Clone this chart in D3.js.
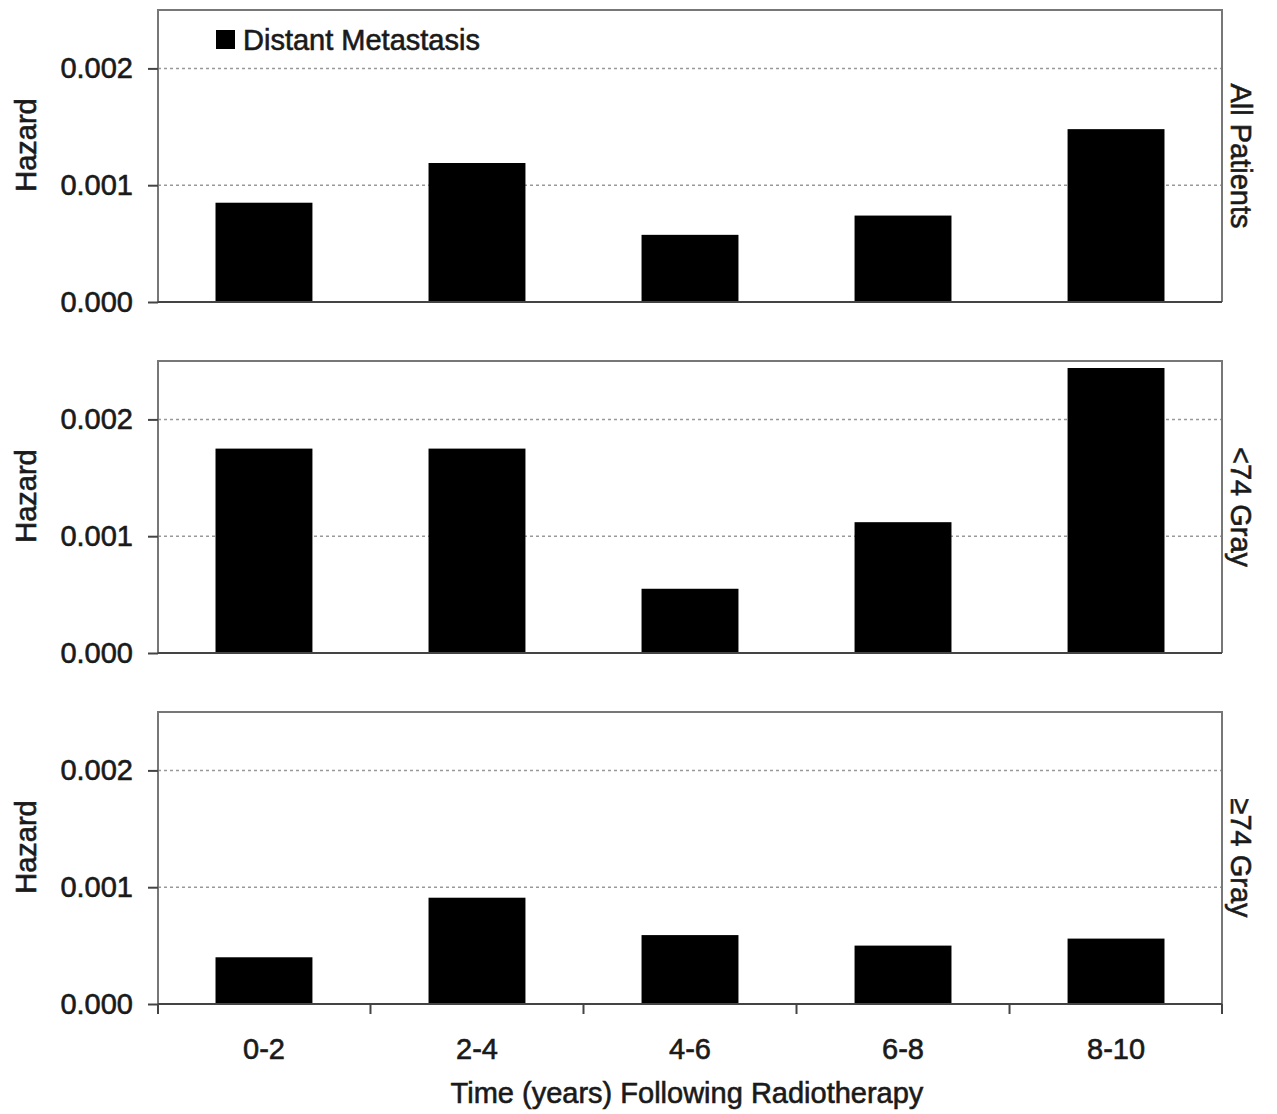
<!DOCTYPE html>
<html>
<head>
<meta charset="utf-8">
<script src="https://cdn.jsdelivr.net/npm/d3@7"></script>
<style>
  body { margin: 0; background: #fff; }
  text { font-family: "Liberation Sans", Arial, sans-serif; fill: #1a1a1a; stroke: #1a1a1a; stroke-width: 0.6px; }
</style>
</head>
<body>
<div id="chart-area"></div>
<script>

// SVG Size
var width = 1277,
    height = 1114;

// Data
var periods = ["0-2", "2-4", "4-6", "6-8", "8-10"];
var panelNames = ["All Patients", "<74 Gray", "\u226574 Gray"];
var allPatients = [0.00085, 0.00119, 0.000575, 0.00074, 0.00148];
var below74 = [0.00175, 0.00175, 0.00055, 0.00112, 0.00244];
var above74 = [0.0004, 0.00091, 0.00059, 0.0005, 0.00056];
var yTicks = [0, 0.001, 0.002];
var legendLabel = "Distant Metastasis";
var xTitle = "Time (years) Following Radiotherapy";
var yTitle = "Hazard";

var panels = [
  { name: panelNames[0], values: allPatients, top: 10 },
  { name: panelNames[1], values: below74, top: 361 },
  { name: panelNames[2], values: above74, top: 712 }
];

var left = 158, right = 1222, plotH = 292;
var fontSize = 29;

var svg = d3.select("#chart-area").append("svg")
    .attr("width", width)
    .attr("height", height);

// X scale (shared)
var x = d3.scaleBand()
    .domain(periods)
    .range([left, right])
    .paddingInner(0.545)
    .paddingOuter(0.27);

panels.forEach(function(p, i) {
  var bottom = p.top + plotH;

  var y = d3.scaleLinear()
      .domain([0, 0.0025])
      .range([bottom, p.top]);

  var g = svg.append("g");

  // Gridlines
  g.selectAll(".grid")
    .data(yTicks.slice(1))
    .enter()
    .append("line")
    .attr("x1", left)
    .attr("x2", right)
    .attr("y1", function(d){ return y(d); })
    .attr("y2", function(d){ return y(d); })
    .attr("stroke", "#999")
    .attr("stroke-width", 1.5)
    .attr("stroke-dasharray", "3,3");

  // Frame (left, top, right)
  g.append("path")
    .attr("d", "M" + left + "," + bottom + "V" + p.top + "H" + right + "V" + bottom)
    .attr("fill", "none")
    .attr("stroke", "#777")
    .attr("stroke-width", 2);

  // Bars
  g.selectAll("rect")
    .data(p.values)
    .enter()
    .append("rect")
    .attr("x", function(d, j){ return x(periods[j]); })
    .attr("width", x.bandwidth())
    .attr("y", function(d){ return y(d); })
    .attr("height", function(d){ return bottom - y(d); })
    .attr("fill", "#000");

  // Y axis
  var yAxis = d3.axisLeft(y)
      .tickValues(yTicks)
      .tickFormat(d3.format(".3f"))
      .tickSize(10)
      .tickPadding(15);

  var ya = g.append("g")
    .attr("transform", "translate(" + left + ",0)")
    .call(yAxis);
  ya.select(".domain").remove();
  ya.selectAll(".tick line").attr("stroke", "#444").attr("stroke-width", 2);
  ya.selectAll(".tick text")
    .attr("font-size", fontSize)
    .attr("fill", "#1a1a1a")
    .style("font-family", "'Liberation Sans', Arial, sans-serif");

  // Zero line
  g.append("line")
    .attr("x1", left)
    .attr("x2", right)
    .attr("y1", bottom)
    .attr("y2", bottom)
    .attr("stroke", "#444")
    .attr("stroke-width", 2);

  // Y title
  g.append("text")
    .attr("transform", "translate(36," + (p.top + 135) + ") rotate(-90)")
    .attr("text-anchor", "middle")
    .attr("font-size", fontSize)
    .text(yTitle);

  // Panel label on the right
  g.append("text")
    .attr("transform", "translate(1231," + (p.top + plotH / 2) + ") rotate(90)")
    .attr("text-anchor", "middle")
    .attr("font-size", fontSize)
    .text(p.name);

  // X axis ticks on the bottom panel only
  if (i === panels.length - 1) {
    var edges = periods.map(function(d){ return x(d) - x.step() * x.paddingInner() / 2; });
    edges[0] = left;
    edges.push(right);
    g.selectAll(".xtick")
      .data(edges)
      .enter()
      .append("line")
      .attr("x1", function(d){ return d; })
      .attr("x2", function(d){ return d; })
      .attr("y1", bottom)
      .attr("y2", bottom + 10)
      .attr("stroke", "#444")
      .attr("stroke-width", 2);

    g.selectAll(".xlabel")
      .data(periods)
      .enter()
      .append("text")
      .attr("x", function(d){ return x(d) + x.bandwidth() / 2; })
      .attr("y", bottom + 55)
      .attr("text-anchor", "middle")
      .attr("font-size", fontSize)
      .text(function(d){ return d; });

    g.append("text")
      .attr("x", (left + right) / 2 - 3)
      .attr("y", bottom + 99)
      .attr("text-anchor", "middle")
      .attr("font-size", fontSize)
      .text(xTitle);
  }
});

// Legend
svg.append("rect")
  .attr("x", 216)
  .attr("y", 30)
  .attr("width", 19)
  .attr("height", 19)
  .attr("fill", "#000");
svg.append("text")
  .attr("x", 243)
  .attr("y", 50)
  .attr("font-size", fontSize)
  .text(legendLabel);

</script>
</body>
</html>
